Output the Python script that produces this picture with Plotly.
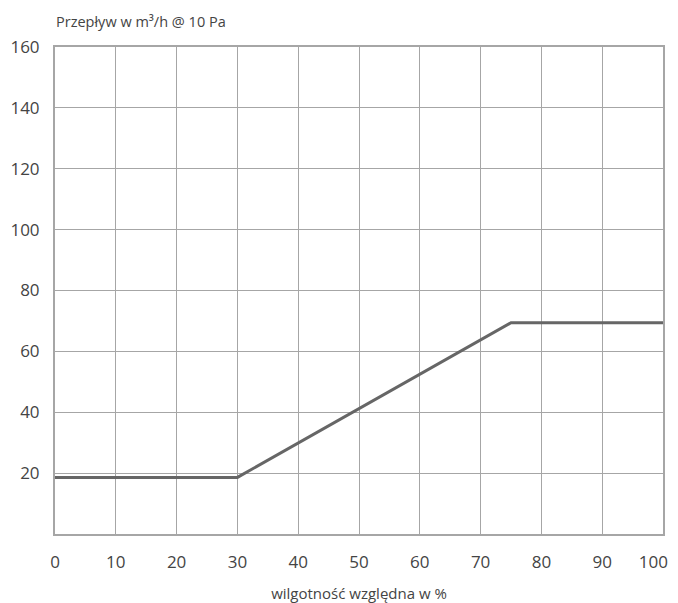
import plotly.graph_objects as go

humidity = [0, 30, 75, 100]
flow = [18.6, 18.6, 69.4, 69.4]
x_ticks = [0, 10, 20, 30, 40, 50, 60, 70, 80, 90, 100]
x_tick_labels = ["0", "10", "20", "30", "40", "50", "60", "70", "80", "90",
                 "100<span style='color:rgba(0,0,0,0)'>00</span>"]
y_ticks = [20, 40, 60, 80, 100, 120, 140, 160]

fig = go.Figure()
fig.add_trace(go.Scatter(x=humidity, y=flow, mode="lines",
                         line=dict(color="#666666", width=3), hoverinfo="skip",
                         showlegend=False))

grid = "#a6a6a6"
txt = "#444444"
fig.update_layout(
    width=670, height=595,
    margin=dict(l=47, r=15, t=39, b=69),
    paper_bgcolor="white", plot_bgcolor="white",
    font=dict(family="Open Sans", color=txt),
    xaxis=dict(range=[0, 100], tickvals=x_ticks, ticktext=x_tick_labels,
               showgrid=True, gridcolor=grid, automargin=False,
               ticklabeloverflow="allow",
               gridwidth=1, zeroline=False, showline=True, linecolor=grid,
               linewidth=2, mirror=True, ticks="", ticklen=0, ticklabelstandoff=12,
               tickfont=dict(size=17, color=txt),
               title=dict(text="wilgotność względna w %", font=dict(size=15, color=txt),
                          standoff=18)),
    yaxis=dict(range=[0, 160], tickvals=y_ticks, showgrid=True, gridcolor=grid,
               gridwidth=1, zeroline=False, showline=True, linecolor=grid, automargin=False,
               ticklabeloverflow="allow",
               linewidth=2, mirror=True, ticks="", ticklen=0, ticklabelstandoff=10,
               tickfont=dict(size=17, color=txt)),
    annotations=[dict(text="Przepływ w m³/h @ 10 Pa", xref="paper", yref="paper",
                      x=-0.002, y=1, xanchor="left", yanchor="bottom", yshift=14,
                      showarrow=False, font=dict(size=14.5, color=txt))],
)
fig.write_html("out.html")
